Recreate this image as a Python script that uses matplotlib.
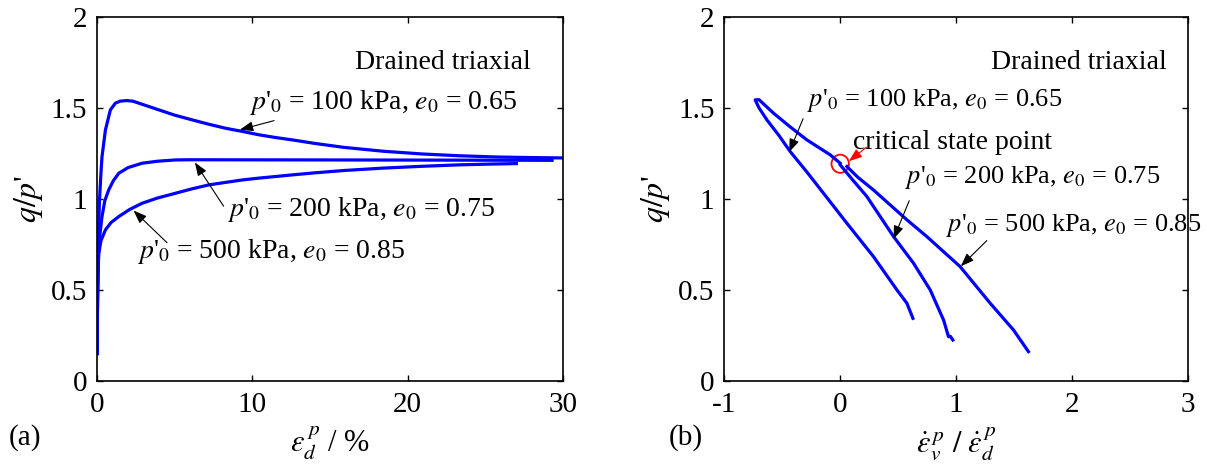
import matplotlib
matplotlib.use("Agg")
import matplotlib.pyplot as plt
from matplotlib.patches import Ellipse

plt.rcParams["font.family"] = ["Liberation Serif", "DejaVu Serif"]
plt.rcParams["mathtext.fontset"] = "stix"
plt.rcParams["axes.unicode_minus"] = False

# (a) stress ratio vs deviatoric plastic strain (%)
strain_100 = [0, 0.03, 0.08, 0.15, 0.25, 0.32, 0.54, 0.86, 1.18, 1.5, 1.9, 2.3, 2.9, 3.98, 5.0, 6.13, 7.2,
              8.28, 9.4, 10.43, 11.5, 12.58, 14.0, 15.9, 18.4, 20.9, 23.3, 25.8, 28.0, 30.0]
ratio_100 = [0.15, 0.45, 0.75, 0.98, 1.14, 1.232, 1.379, 1.489, 1.526, 1.537, 1.54, 1.537, 1.52, 1.489, 1.46,
             1.434, 1.41, 1.388, 1.37, 1.352, 1.337, 1.324, 1.305, 1.283, 1.262, 1.247, 1.237, 1.23, 1.227, 1.225]
strain_200 = [0, 0.03, 0.08, 0.15, 0.32, 0.5, 0.75, 1.05, 1.4, 2.0, 2.9, 3.9, 5.05, 6.0, 15.0, 29.3]
ratio_200 = [0.15, 0.45, 0.66, 0.78, 0.903, 0.99, 1.049, 1.1, 1.141, 1.172, 1.196, 1.207, 1.214, 1.215, 1.214, 1.212]
strain_500 = [0, 0.03, 0.06, 0.11, 0.25, 0.54, 0.9, 1.4, 2.1, 2.9, 3.9, 5.05, 6.1, 7.2, 8.3, 9.35, 10.4, 11.5,
              12.58, 14.0, 15.9, 18.4, 20.9, 23.3, 25.2, 27.0]
ratio_500 = [0.15, 0.4, 0.58, 0.7, 0.77, 0.83, 0.87, 0.903, 0.942, 0.976, 1.005, 1.031, 1.055, 1.077, 1.091,
             1.104, 1.114, 1.123, 1.132, 1.143, 1.156, 1.169, 1.179, 1.187, 1.191, 1.194]

# (b) stress ratio vs dilatancy
dil_100 = [0.627, 0.575, 0.489, 0.287, 0.058, -0.144, -0.29, -0.431, -0.53, -0.632, -0.70, -0.733,
           -0.70, -0.575, -0.43, -0.287, -0.086, 0.0]
q_100 = [0.344, 0.427, 0.5, 0.683, 0.866, 1.031, 1.15, 1.26, 1.35, 1.434, 1.50, 1.544,
         1.545, 1.471, 1.395, 1.324, 1.242, 1.196]
dil_200 = [0.971, 0.95, 0.934, 0.891, 0.776, 0.632, 0.46, 0.23, 0.1, 0.0]
q_200 = [0.225, 0.245, 0.243, 0.335, 0.5, 0.647, 0.793, 1.013, 1.11, 1.187]
dil_500 = [1.623, 1.494, 1.293, 1.034, 0.747, 0.575, 0.287, 0.15, 0.058]
q_500 = [0.161, 0.28, 0.427, 0.628, 0.793, 0.885, 1.049, 1.12, 1.178]

critical_point = (0.0, 1.193)

lab_100 = "$p$'${}_0$ = 100 kPa, $e_0$ = 0.65"
lab_200 = "$p$'${}_0$ = 200 kPa, $e_0$ = 0.75"
lab_500 = "$p$'${}_0$ = 500 kPa, $e_0$ = 0.85"

FS = 20
blue = "#0000ff"
arrow_kw = dict(arrowstyle="-|>,head_length=0.8,head_width=0.3", color="black", lw=0.8, shrinkA=0, shrinkB=0)

fig = plt.figure(figsize=(12.07, 4.68), dpi=100)
ax1 = fig.add_axes([0.0804, 0.186, 0.386, 0.778])
ax2 = fig.add_axes([0.600, 0.186, 0.3844, 0.778])

for ax in (ax1, ax2):
    ax.tick_params(direction="in", length=4, width=1, top=True, right=True, labelsize=FS + 1)
    ax.tick_params(axis="x", pad=8)
    ax.tick_params(axis="y", pad=7)
    for s in ax.spines.values():
        s.set_linewidth(1.2)
    ax.set_ylim(0, 2)
    ax.set_yticks([0, 0.5, 1, 1.5, 2])
    ax.set_yticklabels(["0", "0.5", "1", "1.5", "2"])
    ax.set_ylabel("$q/p$'", fontsize=FS + 3, labelpad=4)

# panel (a)
ax1.plot(strain_100, ratio_100, color=blue, lw=2.3)
ax1.plot(strain_200, ratio_200, color=blue, lw=2.3)
ax1.plot(strain_500, ratio_500, color=blue, lw=2.3)
ax1.set_xlim(0, 30)
ax1.set_xticks([0, 10, 20, 30])
ax1.set_xlabel(r"$\varepsilon_d^{\,p}$ / %", fontsize=FS + 2, labelpad=4)

ax1.text(16.6, 1.75, "Drained triaxial", fontsize=FS, va="center")
ax1.text(9.8, 1.53, lab_100, fontsize=FS, va="center")
ax1.annotate("", xy=(9.2, 1.38), xytext=(11.4, 1.43), arrowprops=arrow_kw)
ax1.text(8.4, 0.94, lab_200, fontsize=FS, va="center")
ax1.annotate("", xy=(6.3, 1.20), xytext=(8.15, 0.96), arrowprops=arrow_kw)
ax1.text(2.6, 0.71, lab_500, fontsize=FS, va="center")
ax1.annotate("", xy=(2.35, 0.936), xytext=(4.5, 0.76), arrowprops=arrow_kw)
ax1.text(-0.19, -0.155, "(a)", transform=ax1.transAxes, fontsize=FS + 1, va="center")

# panel (b)
ax2.plot(dil_100, q_100, color=blue, lw=2.3)
ax2.plot(dil_200, q_200, color=blue, lw=2.3)
ax2.plot(dil_500, q_500, color=blue, lw=2.3)
ax2.set_xlim(-1, 3)
ax2.set_xticks([-1, 0, 1, 2, 3])
ax2.set_xlabel(r"$\dot{\varepsilon}_v^{\,p}\ /\ \dot{\varepsilon}_d^{\,p}$", fontsize=FS + 2, labelpad=4)

ax2.add_patch(Ellipse(critical_point, 0.15, 0.1, fill=False, edgecolor="red", lw=1.3))
ax2.text(1.3, 1.75, "Drained triaxial", fontsize=FS, va="center")
ax2.text(0.11, 1.312, "critical state point", fontsize=FS, va="center")
ax2.annotate("", xy=(0.075, 1.207), xytext=(0.227, 1.284),
             arrowprops=dict(arrow_kw, color="red"))
ax2.text(-0.29, 1.54, lab_100, fontsize=FS - 1, va="center")
ax2.annotate("", xy=(-0.44, 1.257), xytext=(-0.32, 1.44), arrowprops=arrow_kw)
ax2.text(0.56, 1.12, lab_200, fontsize=FS - 1, va="center")
ax2.annotate("", xy=(0.46, 0.78), xytext=(0.595, 0.99), arrowprops=arrow_kw)
ax2.text(0.91, 0.853, lab_500, fontsize=FS - 1, va="center")
ax2.annotate("", xy=(1.04, 0.63), xytext=(1.264, 0.771), arrowprops=arrow_kw)
ax2.text(-0.12, -0.155, "(b)", transform=ax2.transAxes, fontsize=FS + 1, va="center")

fig.savefig("out.png", dpi=100)
